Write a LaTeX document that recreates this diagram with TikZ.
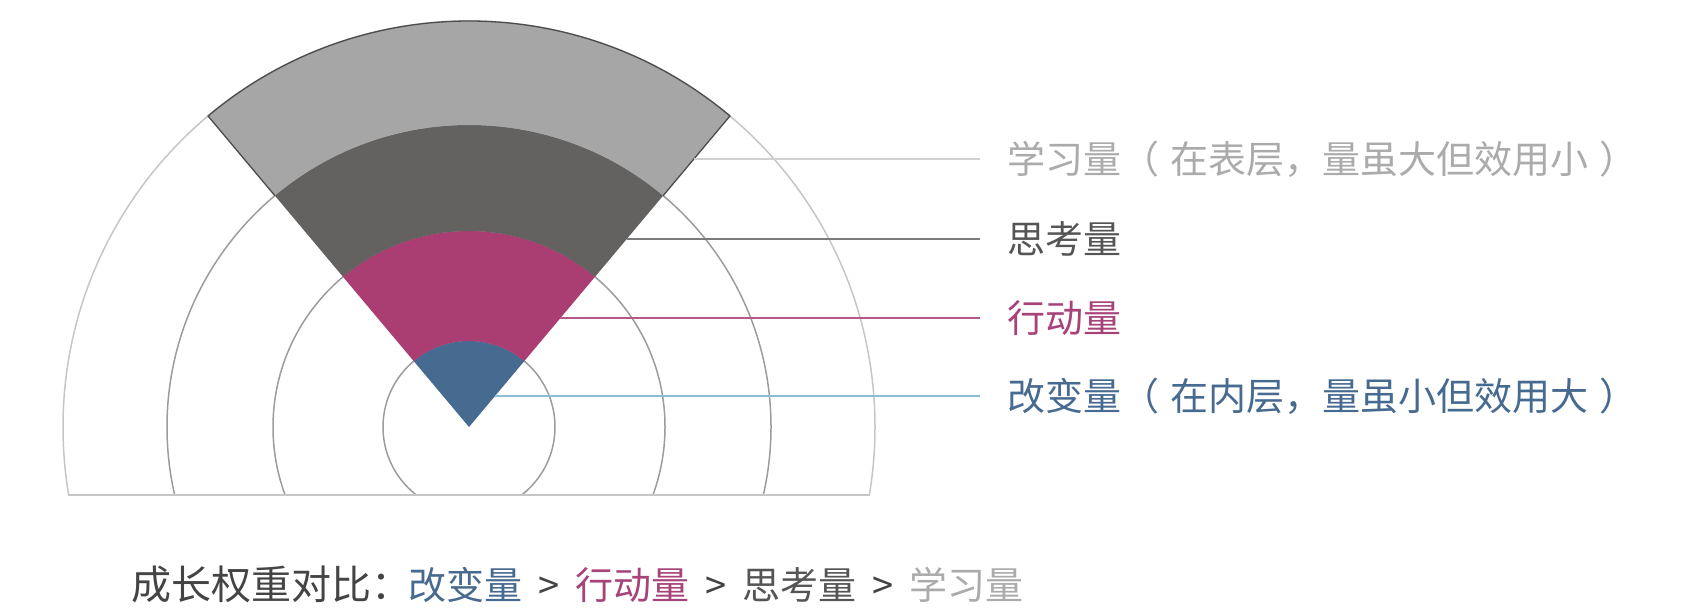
\documentclass[tikz,border=0pt]{standalone}
\usepackage{fontspec}
\usepackage{tikz}
\usepackage{color}
\setmainfont{Noto Sans CJK SC}
\definecolor{gaibian}{HTML}{476B90}
\definecolor{xingdong}{HTML}{AA3E73}
\definecolor{sikao}{HTML}{636261}
\definecolor{xuexi}{HTML}{A7A6A6}
\definecolor{ring}{HTML}{9C9C9C}
\definecolor{ringout}{HTML}{C6C6C6}
\definecolor{gbline}{HTML}{8DBCD6}
\definecolor{xdline}{HTML}{B5588A}
\definecolor{skline}{HTML}{7B7B7B}
\definecolor{xxline}{HTML}{D0D0D0}
\definecolor{gbtext}{HTML}{476A90}
\definecolor{xdtext}{HTML}{A8437A}
\definecolor{sktext}{HTML}{555555}
\definecolor{xxtext}{HTML}{ABABAB}

\begin{document}
\begin{tikzpicture}[x=1pt, y=1pt,
    lbl/.style={anchor=west, inner xsep=27pt, inner ysep=0pt, text height=28.5pt, text depth=0pt, font=\fontsize{38}{46}\selectfont}]
  \useasboundingbox (0,0) rectangle (1688,614);
  \coordinate (O) at (469,187);
  \begin{scope}
    \clip (0,119) rectangle (1688,614);
    \foreach \r/\c in {86/ring, 196/ring, 302/ring, 406/ringout}{
    \draw[\c, line width=1.5pt] (O) circle (\r);
    }
  \end{scope}
  \draw[ringout, line width=1.5pt] (68.7,119) -- (869.3,119);
  \foreach \ri/\ro/\c in {0/86/gaibian, 86/196/xingdong, 196/302/sikao, 302/406/xuexi}{
  \fill[\c] (O) ++(50:\ri) arc[start angle=50, end angle=130, radius=\ri]
    -- ++(130:{\ro-\ri}) arc[start angle=130, end angle=50, radius=\ro] -- cycle;
  }
  \draw[black!70, line width=1.3pt, line join=round] (O) ++(130:302) -- ++(130:104)
    arc[start angle=130, end angle=50, radius=406] -- ++(50:-104);
  \coordinate (a) at ([shift={(50:349.9)}]O);
  \coordinate (b) at ([shift={(50:245.4)}]O);
  \coordinate (c) at ([shift={(50:142.3)}]O);
  \coordinate (d) at ([shift={(50:40.5)}]O);
  \node[lbl, text=xxtext] (A) at (980,455) {学习量（\hspace{11pt}在表层，量虽大但效用小\hspace{11pt}）};
  \node[lbl, text=sktext] (B) at (980,375) {思考量};
  \node[lbl, text=xdtext] (C) at (980,296) {行动量};
  \node[lbl, text=gbtext] (D) at (980,218) {改变量（\hspace{11pt}在内层，量虽小但效用大\hspace{11pt}）};
  \draw[xxline, line width=2pt] (a) -- (a -| A.west);
  \draw[skline, line width=2pt] (b) -- (b -| B.west);
  \draw[xdline, line width=2pt] (c) -- (c -| C.west);
  \draw[gbline, line width=2pt] (d) -- (d -| D.west);
  \node[lbl, inner xsep=0pt, text=sktext!80!black] (S) at (131,29)
    {{\fontsize{40}{48}\selectfont 成长权重对比：}\hspace{-3pt}{\color{gbtext}改变量}\hspace{16pt}>\hspace{16pt}{\color{xdtext}行动量}\hspace{16pt}>\hspace{16pt}{\color{sktext}思考量}\hspace{16pt}>\hspace{16pt}{\color{xxtext}学习量}};
\end{tikzpicture}
\end{document}
